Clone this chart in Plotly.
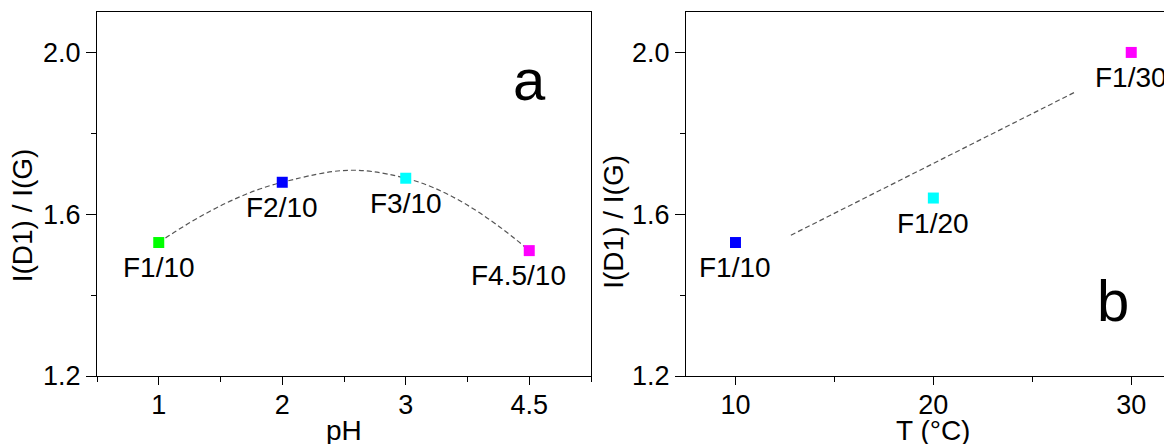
import plotly.graph_objects as go

# ---------------- data ----------------
# panel a: pH series
ph_labels = ["1", "2", "3", "4.5"]
ph_names = ["F1/10", "F2/10", "F3/10", "F4.5/10"]
ph_ratio = [1.530, 1.679, 1.689, 1.510]

# panel b: temperature series
t_values = [10, 20, 30]
t_names = ["F1/10", "F1/20", "F1/30"]
t_ratio = [1.530, 1.640, 2.000]

# dashed linear trend in panel b (end points)
fit_t = [12.8, 27.2]
fit_ratio = [1.548, 1.903]

y_ticks = [1.2, 1.6, 2.0]

# ---------------- styles ----------------
ph_colors = ["#00ff00", "#0000ff", "#00ffff", "#ff00ff"]
t_colors = ["#0000ff", "#00ffff", "#ff00ff"]
FONT = "Liberation Sans, Arial, sans-serif"
# page body has an 8px margin, so the figure is sized/offset to compensate
W, H = 1164, 436
ML, MR, MT, MB = 89, 0, 4, 68

ph_x = list(range(len(ph_labels)))

fig = go.Figure()

# panel a curve
fig.add_trace(go.Scatter(
    x=ph_x, y=ph_ratio, mode="lines",
    line=dict(color="#555555", width=1.2, dash="5px,3px", shape="spline", smoothing=1.3),
    xaxis="x", yaxis="y", hoverinfo="skip", showlegend=False))
fig.add_trace(go.Scatter(
    x=ph_x, y=ph_ratio, mode="markers",
    marker=dict(symbol="square", size=11, color=ph_colors, line=dict(width=0)),
    xaxis="x", yaxis="y", showlegend=False))

# panel b
fig.add_trace(go.Scatter(
    x=fit_t, y=fit_ratio, mode="lines",
    line=dict(color="#555555", width=1.2, dash="5px,3px"),
    xaxis="x2", yaxis="y2", hoverinfo="skip", showlegend=False))
fig.add_trace(go.Scatter(
    x=t_values, y=t_ratio, mode="markers",
    marker=dict(symbol="square", size=11, color=t_colors, line=dict(width=0)),
    xaxis="x2", yaxis="y2", showlegend=False))

annotations = []
for i, (xv, yv, name) in enumerate(zip(ph_x, ph_ratio, ph_names)):
    annotations.append(dict(
        x=xv, y=yv, xref="x", yref="y", text=name, showarrow=False,
        xanchor="center", yanchor="middle", yshift=-25,
        xshift=-11 if i == len(ph_x) - 1 else 0,
        font=dict(family=FONT, size=28, color="black")))
for xv, yv, name in zip(t_values, t_ratio, t_names):
    annotations.append(dict(
        x=xv, y=yv, xref="x2", yref="y2", text=name, showarrow=False,
        xanchor="center", yanchor="middle", yshift=-25,
        font=dict(family=FONT, size=28, color="black")))

# panel letters
annotations.append(dict(x=3.0, y=1.932, xref="x", yref="y", text="a", showarrow=False,
                        xanchor="center", yanchor="middle",
                        font=dict(family=FONT, size=58, color="black")))
annotations.append(dict(x=29.1, y=1.3875, xref="x2", yref="y2", text="b", showarrow=False,
                        xanchor="center", yanchor="middle",
                        font=dict(family=FONT, size=58, color="black")))

# axis titles
annotations.append(dict(x=1.5, y=-0.1494, xref="x", yref="paper", text="pH", showarrow=False,
                        xanchor="center", yanchor="middle",
                        font=dict(family=FONT, size=28, color="black")))
annotations.append(dict(x=20, y=-0.1494, xref="x2", yref="paper", text="T (°C)", showarrow=False,
                        xanchor="center", yanchor="middle",
                        font=dict(family=FONT, size=28, color="black")))
annotations.append(dict(x=-0.0693, y=0.440, xref="paper", yref="paper", text="I(D1) / I(G)",
                        showarrow=False, textangle=-90, xanchor="center", yanchor="middle",
                        font=dict(family=FONT, size=28, color="black")))
annotations.append(dict(x=0.481, y=0.424, xref="paper", yref="paper", text="I(D1) / I(G)",
                        showarrow=False, textangle=-90, xanchor="center", yanchor="middle",
                        font=dict(family=FONT, size=28, color="black")))

axis_common = dict(showgrid=False, zeroline=False, showline=True, linecolor="black",
                   linewidth=1.3, ticks="outside", tickcolor="black", tickwidth=1.3,
                   automargin=False,
                   tickfont=dict(family=FONT, size=27, color="black"))

fig.update_layout(
    width=W, height=H,
    margin=dict(l=ML, r=MR, t=MT, b=MB, pad=0),
    paper_bgcolor="white", plot_bgcolor="white",
    showlegend=False,
    annotations=annotations,
    xaxis=dict(domain=[0, 494 / 1075], range=[-0.5, len(ph_labels) - 0.5],
               tickmode="array", tickvals=ph_x, ticktext=ph_labels, ticklen=8,
               ticklabelstandoff=-4,
               mirror=True, anchor="y",
               minor=dict(tickmode="array",
                          tickvals=[i - 0.5 for i in range(len(ph_labels) + 1)],
                          ticklen=5, ticks="outside", tickcolor="black", tickwidth=1.3),
               **axis_common),
    yaxis=dict(domain=[0, 1], range=[1.2, 2.1], tickmode="array", tickvals=y_ticks,
               tickformat=".1f", ticklen=10, mirror=True, anchor="x",
               minor=dict(dtick=0.2, tick0=1.2, ticklen=5, ticks="outside",
                          tickcolor="black", tickwidth=1.3),
               **axis_common),
    xaxis2=dict(domain=[589 / 1075, 1], range=[7.5, 32.06], tickmode="linear",
                tick0=0, dtick=10, ticklen=8, mirror=True, anchor="y2",
                ticklabelstandoff=-4,
                minor=dict(dtick=5, tick0=0, ticklen=5, ticks="outside",
                           tickcolor="black", tickwidth=1.3),
                **axis_common),
    yaxis2=dict(domain=[0, 1], range=[1.2, 2.1], tickmode="array", tickvals=y_ticks,
                tickformat=".1f", ticklen=10, mirror=False, anchor="x2",
                minor=dict(dtick=0.2, tick0=1.2, ticklen=5, ticks="outside",
                           tickcolor="black", tickwidth=1.3),
                **axis_common),
)

fig.write_html("out.html")
